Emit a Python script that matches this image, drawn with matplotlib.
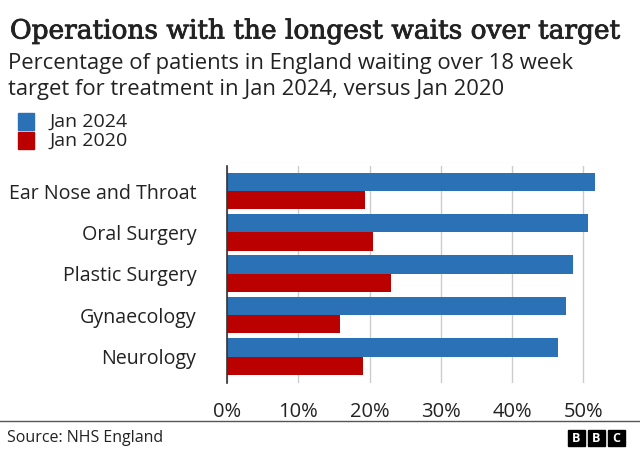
import matplotlib
matplotlib.use("Agg")
import matplotlib.pyplot as plt
import matplotlib.patheffects as pe
import numpy as np

categories = ["Ear Nose and Throat", "Oral Surgery", "Plastic Surgery", "Gynaecology", "Neurology"]
jan_2024 = [51.7, 50.6, 48.6, 47.6, 46.5]
jan_2020 = [19.4, 20.5, 23.0, 15.8, 19.1]
x_ticks = [0, 10, 20, 30, 40, 50]
x_tick_labels = ["0%", "10%", "20%", "30%", "40%", "50%"]

BLUE = "#2a72b5"
RED = "#bb0000"
TEXT = "#222222"
SANS = ["Open Sans", "DejaVu Sans"]

W, H = 640, 449
fig = plt.figure(figsize=(W / 100, H / 100), dpi=100)

ax = fig.add_axes([227 / W, 1 - 383 / H, (619 - 227) / W, (383 - 166) / H])
y = np.arange(len(categories))
h = 0.442
ax.barh(y - h / 2, jan_2024, height=h, color=BLUE, zorder=3)
ax.barh(y + h / 2, jan_2020, height=h, color=RED, zorder=3)
ax.set_ylim(4.638, -0.604)
ax.set_xlim(0, 55)

ax.set_xticks(x_ticks)
ax.set_xticklabels(x_tick_labels, fontsize=14.5, color=TEXT, family=SANS)
ax.set_yticks(y)
ax.set_yticklabels(categories, fontsize=14.1, color=TEXT, family=SANS)
ax.tick_params(axis="y", length=0, pad=22)
ax.tick_params(axis="x", length=0, pad=14)
ax.grid(axis="x", color="#cccccc", linewidth=1, zorder=0)
for s in ["top", "right", "bottom"]:
    ax.spines[s].set_visible(False)
ax.spines["left"].set_color("#333333")
ax.spines["left"].set_linewidth(1.2)
ax.spines["left"].set_zorder(4)

# Titles
fig.text(10 / W, 1 - 31 / H, "Operations with the longest waits over target",
         fontsize=19, family=["DejaVu Serif"], color=TEXT, va="center", ha="left",
         path_effects=[pe.withStroke(linewidth=0.6, foreground=TEXT)])
fig.text(8 / W, 1 - 64 / H, "Percentage of patients in England waiting over 18 week",
         fontsize=15.8, family=SANS, color=TEXT, va="center", ha="left")
fig.text(8 / W, 1 - 89 / H, "target for treatment in Jan 2024, versus Jan 2020",
         fontsize=15.8, family=SANS, color=TEXT, va="center", ha="left")

# Legend
for i, (lab, col) in enumerate([("Jan 2024", BLUE), ("Jan 2020", RED)]):
    yc = 121.5 + i * 19
    fig.patches.append(plt.Rectangle((18 / W, 1 - (yc + 8.5) / H), 16 / W, 17 / H,
                                     transform=fig.transFigure, color=col))
    fig.text(50 / W, 1 - yc / H, lab, fontsize=14, family=SANS, color=TEXT,
             va="center", ha="left")

# Footer
fig.add_artist(plt.Line2D([0, 1], [1 - 421 / H, 1 - 421 / H], transform=fig.transFigure,
                          color="#555555", linewidth=1))
fig.text(7 / W, 1 - 437.5 / H, "Source: NHS England", fontsize=11.5, family=SANS,
         color=TEXT, va="center", ha="left")
for i, letter in enumerate("BBC"):
    x0 = 568 + i * 20
    fig.patches.append(plt.Rectangle((x0 / W, 1 - 446 / H), 17 / W, 16 / H,
                                     transform=fig.transFigure, color="black"))
    fig.text((x0 + 8.5) / W, 1 - 438 / H, letter, fontsize=9, fontweight="bold",
             family=SANS, color="white", va="center", ha="center")

fig.savefig("out.png", dpi=100)
